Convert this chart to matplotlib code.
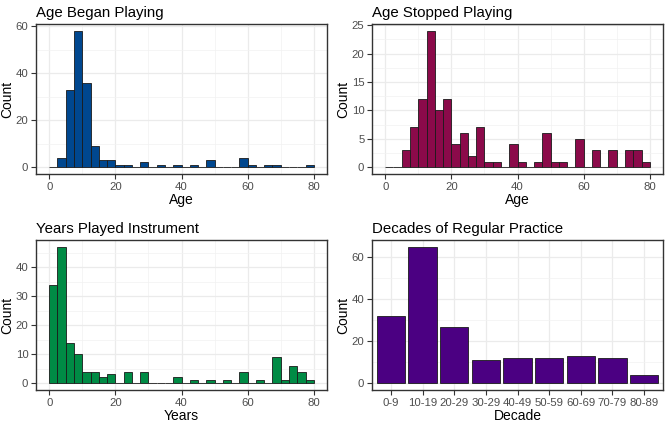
import numpy as np
import matplotlib
matplotlib.use("Agg")
import matplotlib.pyplot as plt

plt.rcParams['font.family'] = ['Liberation Sans', 'DejaVu Sans']

# histogram counts, 32 bins of width 2.5 from 0 to 80
began = [0, 4, 33, 58, 36, 9, 3, 3, 1, 1, 0, 2, 0, 1, 0, 1,
         0, 1, 0, 3, 0, 0, 0, 4, 1, 0, 1, 1, 0, 0, 0, 1]
stopped = [0, 0, 3, 7, 12, 24, 10, 12, 4, 6, 2, 7, 1, 1, 0, 4,
           1, 0, 1, 6, 1, 1, 0, 5, 0, 3, 0, 3, 0, 3, 3, 1]
years = [34, 47, 14, 10, 4, 4, 2, 3, 0, 4, 0, 4, 0, 0, 0, 2,
         0, 1, 0, 1, 0, 1, 0, 4, 0, 1, 0, 9, 1, 6, 4, 1]

decades = ['0-9', '10-19', '20-29', '30-29', '40-49', '50-59', '60-69', '70-79', '80-89']
decade_counts = [32, 65, 27, 11, 12, 12, 13, 12, 4]

binw = 2.5
edges = np.arange(0, 80, binw)

W, H = 667, 424
fig = plt.figure(figsize=(W / 100, H / 100), dpi=100)

def make_ax(x0, y0, x1, y1):
    return fig.add_axes([x0 / W, 1 - y1 / H, (x1 - x0) / W, (y1 - y0) / H])

def theme(ax, title, xlabel, ymax, ymajor, yminor, xmajor=None, xminor=None):
    ax.set_facecolor('white')
    for s in ax.spines.values():
        s.set_color('#333333')
        s.set_linewidth(1.0)
    ax.set_axisbelow(True)
    ax.set_ylim(-0.05 * ymax, 1.05 * ymax)
    ax.set_yticks(ymajor)
    ax.set_yticks(yminor, minor=True)
    if xmajor is not None:
        ax.set_xlim(-4, 84)
        ax.set_xticks(xmajor)
        ax.set_xticks(xminor, minor=True)
    ax.grid(True, which='major', color='#EBEBEB', linewidth=0.9)
    ax.grid(True, which='minor', color='#F2F2F2', linewidth=0.5)
    ax.tick_params(which='major', length=3.5, width=0.8, color='#333333',
                   labelsize=8.2, labelcolor='#4D4D4D', pad=2)
    ax.tick_params(which='minor', length=0)
    ax.set_title(title, loc='left', fontsize=10.8, pad=5, color='black')
    ax.set_xlabel(xlabel, fontsize=10, labelpad=1)
    ax.set_ylabel('Count', fontsize=10, labelpad=1)

ax1 = make_ax(36, 24, 327, 174)
ax1.bar(edges, began, width=binw, align='edge', color='#00478F',
        edgecolor='#1a1a1a', linewidth=0.6)
theme(ax1, 'Age Began Playing', 'Age', 58, [0, 20, 40, 60], [10, 30, 50],
      [0, 20, 40, 60, 80], [10, 30, 50, 70])

ax2 = make_ax(372, 24, 663, 174)
ax2.bar(edges, stopped, width=binw, align='edge', color='#8B0A4A',
        edgecolor='#1a1a1a', linewidth=0.6)
theme(ax2, 'Age Stopped Playing', 'Age', 24, [0, 5, 10, 15, 20, 25],
      [2.5, 7.5, 12.5, 17.5, 22.5], [0, 20, 40, 60, 80], [10, 30, 50, 70])

ax3 = make_ax(36, 240, 327, 390)
ax3.bar(edges, years, width=binw, align='edge', color='#008B45',
        edgecolor='#1a1a1a', linewidth=0.6)
theme(ax3, 'Years Played Instrument', 'Years', 47, [0, 10, 20, 30, 40],
      [5, 15, 25, 35, 45], [0, 20, 40, 60, 80], [10, 30, 50, 70])

ax4 = make_ax(372, 240, 663, 390)
xpos = np.arange(len(decades))
ax4.bar(xpos, decade_counts, width=0.9, color='#4B0082',
        edgecolor='#1a1a1a', linewidth=0.6)
ax4.set_xlim(-0.6, len(decades) - 0.4)
ax4.set_xticks(xpos)
ax4.set_xticklabels(decades)
ax4.set_xticks([], minor=True)
theme(ax4, 'Decades of Regular Practice', 'Decade', 65, [0, 20, 40, 60], [10, 30, 50])

fig.savefig('out.png', dpi=100)
